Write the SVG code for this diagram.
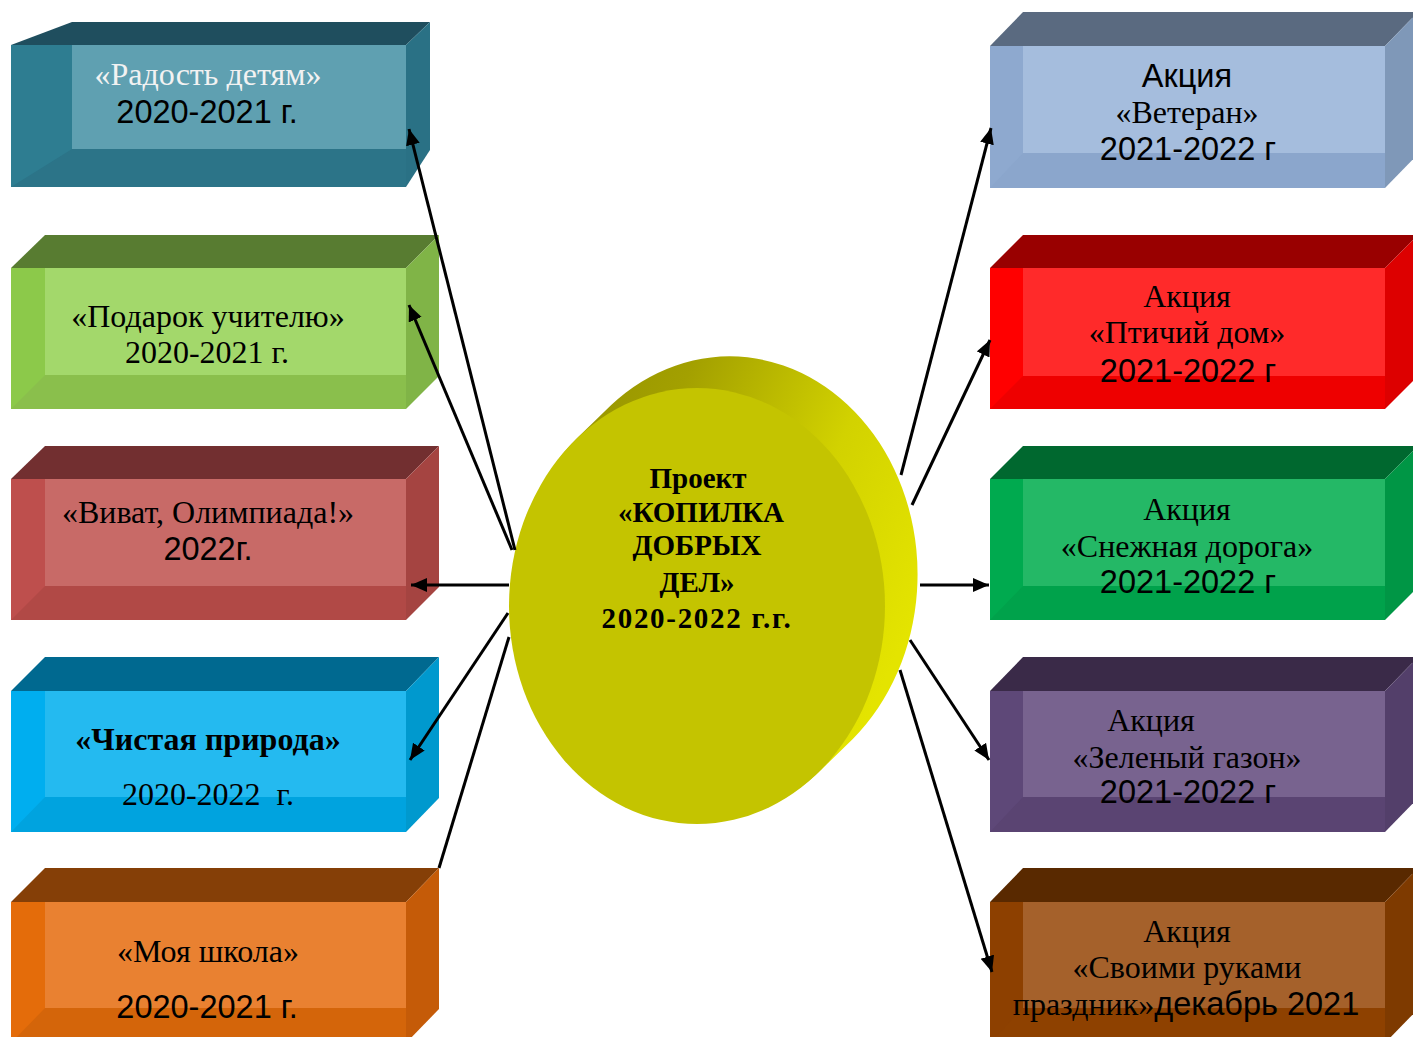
<svg xmlns="http://www.w3.org/2000/svg" width="1413" height="1037" viewBox="0 0 1413 1037">
<style>
.t{font-family:"Liberation Serif","Times New Roman",serif;font-size:32px;fill:#000;text-anchor:middle}
.a{font-family:"Liberation Sans",Arial,sans-serif;font-size:32.5px;fill:#000;text-anchor:middle}
.b{font-weight:bold}
.c{font-family:"Liberation Serif","Times New Roman",serif;font-size:29px;font-weight:bold;fill:#000;text-anchor:middle}
.ln{stroke:#000;stroke-width:3;fill:none}
.arr{marker-end:url(#ah)}
</style>
<defs>
<marker id="ah" markerUnits="userSpaceOnUse" markerWidth="18" markerHeight="16" refX="16" refY="7" orient="auto">
<path d="M0,0 L16,7 L0,14 Z" fill="#000"/>
</marker>
<linearGradient id="side" x1="0" y1="0" x2="1" y2="0.55">
<stop offset="0" stop-color="#8E8C00"/>
<stop offset="0.35" stop-color="#A3A000"/>
<stop offset="0.7" stop-color="#D2D200"/>
<stop offset="1" stop-color="#E4E400"/>
</linearGradient>
</defs>
<rect width="1413" height="1037" fill="#fff"/>

<g id="center">
<path d="M576.2,439 L611.2,405 A188,218 0 0 1 852.8,739 L817.8,773 A188,218 0 0 1 576.2,439 Z" fill="url(#side)"/>
<ellipse cx="697" cy="606" rx="188" ry="218" fill="#C4C400"/>
<text class="c" x="698" y="488">Проект</text>
<text class="c" x="701" y="522">«КОПИЛКА</text>
<text class="c" x="697" y="555">ДОБРЫХ</text>
<text class="c" x="697" y="592">ДЕЛ»</text>
<text class="c" x="697" y="628" style="letter-spacing:1.7px">2020-2022 г.г.</text>
</g>

<g id="box-radost">
<rect x="11" y="45" width="395" height="142" fill="#2E7D91"/>
<polygon points="11,45 72,22 430,22 406,45" fill="#1F4E5E"/>
<polygon points="406,45 430,22 430,150 406,187" fill="#2A7185"/>
<polygon points="11,187 72,149 406,149 406,187" fill="#2C7488"/>
<rect x="72" y="45" width="334" height="104" fill="#5FA0B1"/>
<text class="t" x="208" y="85" style="fill:#F2F2F2">«Радость детям»</text>
<text class="a" x="207" y="123">2020-2021 г.</text>
</g>

<g id="box-podarok">
<rect x="11" y="268" width="395" height="141" fill="#8CC94A"/>
<polygon points="11,268 45,235 439,235 406,268" fill="#587C31"/>
<polygon points="406,268 439,235 439,376 406,409" fill="#80B447"/>
<polygon points="11,409 45,375 406,375 406,409" fill="#8ABF4C"/>
<rect x="45" y="268" width="361" height="107" fill="#A3D86B"/>
<text class="t" x="208" y="327">«Подарок учителю»</text>
<text class="t" x="207" y="363">2020-2021 г.</text>
</g>

<g id="box-vivat">
<rect x="11" y="479" width="395" height="141" fill="#BE4F4D"/>
<polygon points="11,479 45,446 439,446 406,479" fill="#722F30"/>
<polygon points="406,479 439,446 439,587 406,620" fill="#A54441"/>
<polygon points="11,620 45,586 406,586 406,620" fill="#B14946"/>
<rect x="45" y="479" width="361" height="107" fill="#C86A67"/>
<text class="t" x="208" y="523">«Виват, Олимпиада!»</text>
<text class="a" x="208" y="560">2022г.</text>
</g>

<g id="box-priroda">
<rect x="11" y="691" width="395" height="141" fill="#00AEEF"/>
<polygon points="11,691 45,657 439,657 406,691" fill="#006990"/>
<polygon points="406,691 439,657 439,798 406,832" fill="#0099CE"/>
<polygon points="11,832 45,797 406,797 406,832" fill="#00A3DF"/>
<rect x="45" y="691" width="361" height="106" fill="#24BAF0"/>
<text class="t b" x="208" y="750">«Чистая природа»</text>
<text class="t" x="208" y="805" style="white-space:pre">2020-2022  г.</text>
</g>

<g id="box-shkola">
<rect x="11" y="902" width="395" height="141" fill="#E46C0A"/>
<polygon points="11,902 45,868 439,868 406,902" fill="#853F07"/>
<polygon points="406,902 439,868 439,1009 406,1043" fill="#C55B08"/>
<polygon points="11,1043 45,1008 406,1008 406,1043" fill="#D4650A"/>
<rect x="45" y="902" width="361" height="106" fill="#E98131"/>
<text class="t" x="208" y="962">«Моя школа»</text>
<text class="a" x="207" y="1018">2020-2021 г.</text>
</g>

<g id="box-veteran">
<rect x="990" y="46" width="395" height="142" fill="#8EA9CF"/>
<polygon points="990,46 1023,12 1418,12 1385,46" fill="#5A6A80"/>
<polygon points="1385,46 1418,12 1418,154 1385,188" fill="#7F98B8"/>
<polygon points="990,188 1023,153 1385,153 1385,188" fill="#8BA6CC"/>
<rect x="1023" y="46" width="362" height="107" fill="#A5BDDD"/>
<text class="a" x="1187" y="87">Акция</text>
<text class="t" x="1187" y="123">«Ветеран»</text>
<text class="a" x="1188" y="160">2021-2022 г</text>
</g>

<g id="box-ptichiy">
<rect x="990" y="268" width="395" height="141" fill="#FF0000"/>
<polygon points="990,268 1023,235 1418,235 1385,268" fill="#990000"/>
<polygon points="1385,268 1418,235 1418,376 1385,409" fill="#DD0000"/>
<polygon points="990,409 1023,376 1385,376 1385,409" fill="#EE0000"/>
<rect x="1023" y="268" width="362" height="108" fill="#FF2A2A"/>
<text class="t" x="1187" y="307">Акция</text>
<text class="t" x="1187" y="343">«Птичий дом»</text>
<text class="a" x="1188" y="382">2021-2022 г</text>
</g>

<g id="box-snezhnaya">
<rect x="990" y="479" width="395" height="141" fill="#00AA4F"/>
<polygon points="990,479 1023,446 1418,446 1385,479" fill="#00682F"/>
<polygon points="1385,479 1418,446 1418,587 1385,620" fill="#009645"/>
<polygon points="990,620 1023,586 1385,586 1385,620" fill="#00A24B"/>
<rect x="1023" y="479" width="362" height="107" fill="#24B866"/>
<text class="t" x="1187" y="520">Акция</text>
<text class="t" x="1187" y="557">«Снежная дорога»</text>
<text class="a" x="1188" y="593">2021-2022 г</text>
</g>

<g id="box-gazon">
<rect x="990" y="691" width="395" height="141" fill="#5E4878"/>
<polygon points="990,691 1023,657 1418,657 1385,691" fill="#3A2A48"/>
<polygon points="1385,691 1418,657 1418,798 1385,832" fill="#533F6A"/>
<polygon points="990,832 1023,797 1385,797 1385,832" fill="#5A4472"/>
<rect x="1023" y="691" width="362" height="106" fill="#78638F"/>
<text class="t" x="1151" y="731">Акция</text>
<text class="t" x="1187" y="768">«Зеленый газон»</text>
<text class="a" x="1188" y="803">2021-2022 г</text>
</g>

<g id="box-svoimi">
<rect x="990" y="902" width="395" height="141" fill="#8D4000"/>
<polygon points="990,902 1023,868 1418,868 1385,902" fill="#592900"/>
<polygon points="1385,902 1418,868 1418,1009 1385,1043" fill="#7E3A00"/>
<polygon points="990,1043 1023,1008 1385,1008 1385,1043" fill="#8E4100"/>
<rect x="1023" y="902" width="362" height="106" fill="#A5612B"/>
<text class="t" x="1187" y="942">Акция</text>
<text class="t" x="1187" y="978">«Своими руками</text>
<text class="t" x="1186" y="1015"><tspan>праздник»</tspan><tspan style="font-family:'Liberation Sans',Arial,sans-serif;font-size:32.5px">декабрь 2021</tspan></text>
</g>

<g id="connectors">
<line class="ln arr" x1="515" y1="550" x2="409" y2="129"/>
<line class="ln arr" x1="512" y1="550" x2="409" y2="305"/>
<line class="ln arr" x1="509" y1="585" x2="411" y2="585"/>
<line class="ln arr" x1="508" y1="613" x2="410" y2="760"/>
<line class="ln" x1="509" y1="637" x2="439" y2="868"/>
<line class="ln arr" x1="901" y1="475" x2="991" y2="128"/>
<line class="ln arr" x1="912" y1="505" x2="990" y2="340"/>
<line class="ln arr" x1="920" y1="585" x2="989" y2="585"/>
<line class="ln arr" x1="910" y1="640" x2="989" y2="760"/>
<line class="ln arr" x1="900" y1="670" x2="992" y2="972"/>
</g>
</svg>
